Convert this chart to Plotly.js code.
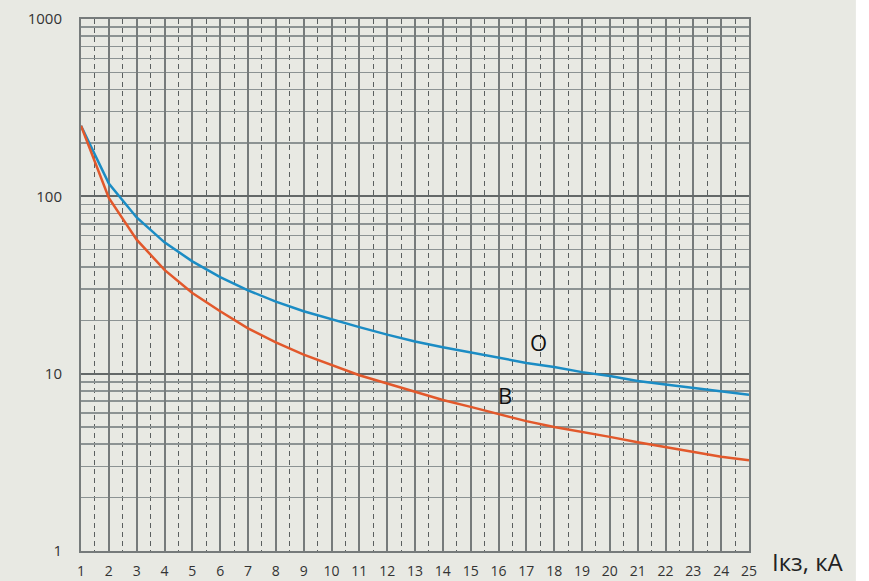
<!DOCTYPE html>
<html><head><meta charset="utf-8">
<script src="https://cdn.plot.ly/plotly-3.0.1.min.js"></script>
<style>html,body{margin:0;padding:0;background:#e8e9e3;}</style>
</head><body>
<div id="chart" style="width:869px;height:581px;"></div>
<script>
const xValues = [1,2,3,4,5,6,7,8,9,10,11,12,13,14,15,16,17,18,19,20,21,22,23,24,25];
const curveO = [250,118,76,55,43,35,29.5,25.5,22.5,20.2,18.3,16.6,15.2,14.1,13.2,12.3,11.5,10.9,10.2,9.7,9.1,8.7,8.3,7.9,7.6];
const curveB = [250,98,57,38.5,28.5,22.5,18,15,12.8,11.2,9.8,8.8,7.9,7.1,6.5,5.9,5.4,5.0,4.7,4.4,4.1,3.85,3.65,3.4,3.25];
const yTickVals = [1,10,100,1000];
const yTickText = ['1','10','100','1000'];
const yMinorVals = [2,3,4,5,6,7,8,9,20,30,40,50,60,70,80,90,200,300,400,500,600,700,800,900];
const labelO = {x: 17.45, y: 15, text: 'O'};
const labelB = {x: 16.25, y: 7.6, text: 'B'};
const axisTitle = 'Ікз, кА';

const data = [
  {x: xValues, y: curveO, type: 'scatter', mode: 'lines', line: {color: '#1b8cc4', width: 2.5}, hoverinfo: 'skip'},
  {x: xValues, y: curveB, type: 'scatter', mode: 'lines', line: {color: '#e2582b', width: 2.5}, hoverinfo: 'skip'}
];
const layout = {
  width: 869, height: 581,
  margin: {l: 81, r: 120, t: 19, b: 30},
  paper_bgcolor: '#e8e9e3', plot_bgcolor: '#e8e9e3',
  showlegend: false,
  font: {family: 'Open Sans, sans-serif', color: '#333', size: 15},
  xaxis: {
    range: [1, 25], tickmode: 'linear', tick0: 1, dtick: 1,
    showgrid: true, gridcolor: '#767b7b', gridwidth: 2,
    showline: true, linecolor: '#767b7b', linewidth: 2, mirror: true,
    zeroline: false, ticks: '', ticklen: 0, ticklabelstandoff: 6,
    tickfont: {size: 14, color: '#333'},
    minor: {tickmode: 'linear', tick0: 1.5, dtick: 1, showgrid: true, gridcolor: '#5a5f5f', gridwidth: 1, griddash: '5px,4px', ticks: ''}
  },
  yaxis: {
    type: 'log', range: [0, 3], tickmode: 'array', tickvals: yTickVals, ticktext: yTickText,
    showgrid: true, gridcolor: '#636868', gridwidth: 2,
    showline: true, linecolor: '#767b7b', linewidth: 2, mirror: true,
    zeroline: false, ticks: '', ticklen: 0, ticklabelstandoff: 14,
    tickfont: {size: 15, color: '#333'},
    minor: {tickmode: 'array', tickvals: yMinorVals, showgrid: true, gridcolor: '#8c9393', gridwidth: 1.5, ticks: ''}
  },
  annotations: [
    {x: labelO.x, y: Math.log10(labelO.y), xref: 'x', yref: 'y', text: labelO.text, showarrow: false, font: {size: 22, color: '#111'}},
    {x: labelB.x, y: Math.log10(labelB.y), xref: 'x', yref: 'y', text: labelB.text, showarrow: false, font: {size: 22, color: '#111'}},
    {x: 1.0876, y: -0.02, xref: 'paper', yref: 'paper', text: axisTitle, showarrow: false, xanchor: 'center', yanchor: 'middle', font: {size: 24, color: '#222'}}
  ],
  shapes: [
    {type: 'rect', xref: 'paper', yref: 'paper', x0: 1.160, x1: 1.19, y0: -0.06, y1: 1.04, fillcolor: '#ffffff', line: {width: 0}, layer: 'below'}
  ]
};
Plotly.newPlot('chart', data, layout, {displayModeBar: false, staticPlot: true});
</script>
</body></html>
